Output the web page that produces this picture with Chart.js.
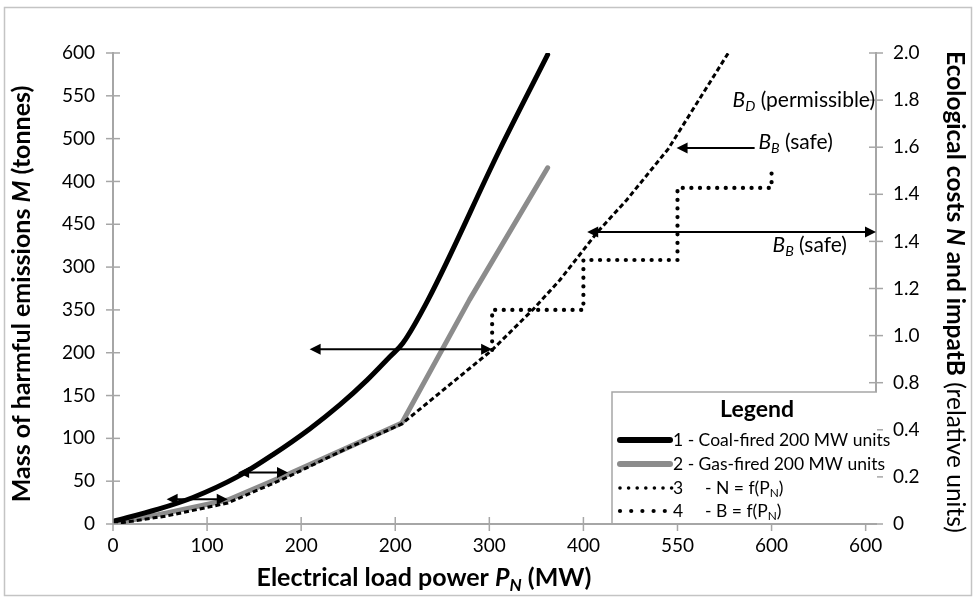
<!DOCTYPE html>
<html><head><meta charset="utf-8">
<script src="https://cdn.jsdelivr.net/npm/chart.js@4.4.0/dist/chart.umd.min.js"></script>
<style>html,body{margin:0;padding:0;background:#fff}#wrap{width:976px;height:600px;position:relative}</style>
</head><body><div id="wrap"><canvas id="c" width="976" height="600"></canvas></div>
<script>
// ---- tick labels (as printed in the original figure) ----
const xTickValues = [0,100,200,300,400,500,600,700,800];
const xTickLabels = ['0','100','200','200','300','400','550','600','600'];
const yTickValues = [0,50,100,150,200,250,300,350,400,450,500,550];
const yTickLabels = ['0','50','100','150','200','350','300','450','400','500','550','600'];
const y2TickValues = [0,0.2,0.4,0.6,0.8,1.0,1.2,1.4,1.6,1.8,2.0];
const y2TickLabels = ['0','0.2','0.4','0.8','1.0','1.2','1.4','1.4','1.6','1.8','2.0'];
const xMax = 811;

// ---- series ----
const coalX = [0,47,85,132,170,209,241,270,294,308,335,411,462];
const coalY = [3,17,31,55,81,111,139,168,195,211,262,437,548];
const gasX  = [0,57,122,186,247,307,379,462];
const gasY  = [0,13,28,58,88,118,262,416];
const nX = [0,57,122,186,247,307,403,446,475,515,546,590,654];
const nY = [0,0.034,0.089,0.200,0.318,0.425,0.739,0.909,1.036,1.240,1.376,1.592,2.0];
const bX = [403,403,500,500,600,600,700,700];
const bY = [0.739,0.909,0.909,1.121,1.121,1.427,1.427,1.516];

// ---- arrows (data units) ----
const arrowX1 = [57,133,209,504,682];
const arrowX2 = [122,186,403,811,599];
const arrowY  = [29,60,204,1.24,1.597];
const arrowAxis = ['y','y','y','y2','y2'];
const arrowStartHead = [true,true,true,true,false];

// ---- notes ----
const noteMain = ['B','B','B'];
const noteSub = ['D','B','B'];
const noteRest = [' (permissible)',' (safe)',' (safe)'];
const noteX = [810,686,701];
const noteY = [1.8,1.62,1.185];
const noteAlign = ['right','left','left'];

// ---- legend ----
const legendNum = ['1 - Coal-fired 200 MW units','2 - Gas-fired 200 MW units','3','4'];
const legendRest = ['','','- N = f(P','- B = f(P'];
const legendSub = ['','','N','N'];

const FONT = 'Lato, "Open Sans", sans-serif';
const pts = (xs, ys) => xs.map((x,i)=>({x:x, y:ys[i]}));

function drawRich(ctx, segs, x, y, align){
  const fontOf = s => (s.italic?'italic ':'') + (s.bold?'bold ':'') + (s.sub? s.size*0.68 : s.size) + 'px ' + FONT;
  let w = 0;
  segs.forEach(s=>{ ctx.font = fontOf(s); s.w = ctx.measureText(s.t).width; w += s.w; });
  let cx = align==='center' ? x - w/2 : (align==='right' ? x - w : x);
  ctx.textAlign = 'left'; ctx.textBaseline = 'middle';
  segs.forEach(s=>{ ctx.font = fontOf(s); ctx.fillText(s.t, cx, y + (s.sub ? s.size*0.3 : 0)); cx += s.w; });
  return w;
}

function arrowHead(ctx, x, y, dir){
  ctx.beginPath();
  ctx.moveTo(x, y);
  ctx.lineTo(x - dir*11, y - 5.5);
  ctx.lineTo(x - dir*11, y + 5.5);
  ctx.closePath();
  ctx.fill();
}

const overlay = {
  id:'overlay',
  afterDraw(chart){
    const {ctx, chartArea:ca, scales} = chart;
    const sx = scales.x, sy = scales.y, sy2 = scales.y2;
    ctx.save();
    ctx.strokeStyle = '#a6a6a6'; ctx.lineWidth = 1.5;
    const ln = (a,b,c,d)=>{ctx.beginPath();ctx.moveTo(a,b);ctx.lineTo(c,d);ctx.stroke();};
    xTickValues.forEach(v=>{ const p = sx.getPixelForValue(v); ln(p, ca.bottom-7, p, ca.bottom+7); });
    yTickValues.forEach(v=>{ const p = sy.getPixelForValue(v); ln(ca.left-7, p, ca.left+7, p); });
    y2TickValues.forEach(v=>{ const p = sy2.getPixelForValue(v); ln(ca.right-7, p, ca.right+7, p); });

    ctx.strokeStyle = '#000'; ctx.fillStyle = '#000'; ctx.lineWidth = 2;
    arrowX1.forEach((x1,i)=>{
      const ys = scales[arrowAxis[i]];
      const p1 = sx.getPixelForValue(x1), p2 = sx.getPixelForValue(arrowX2[i]);
      const py = ys.getPixelForValue(arrowY[i]);
      const dir = p2 > p1 ? 1 : -1;
      ln(p1 + (arrowStartHead[i] ? dir*6 : 0), py, p2 - dir*6, py);
      arrowHead(ctx, p2, py, dir);
      if (arrowStartHead[i]) arrowHead(ctx, p1, py, -dir);
    });

    ctx.fillStyle = '#000';
    noteMain.forEach((m,i)=>{
      const px = sx.getPixelForValue(noteX[i]), py = sy2.getPixelForValue(noteY[i]);
      drawRich(ctx, [{t:m,italic:true,size:21},{t:noteSub[i],italic:true,sub:true,size:21},{t:noteRest[i],size:21}], px, py, noteAlign[i]);
    });

    const lx = 612, ly = 392, lr = 877, lb = ca.bottom - 1;
    ctx.fillStyle = '#fff'; ctx.fillRect(lx, ly, lr-lx, lb-ly);
    ctx.strokeStyle = '#a6a6a6'; ctx.lineWidth = 1.5;
    ctx.beginPath(); ctx.moveTo(lx, lb); ctx.lineTo(lx, ly); ctx.lineTo(lr, ly); ctx.stroke();
    ctx.fillStyle = '#000';
    drawRich(ctx, [{t:'Legend', bold:true, size:23}], 757, 410, 'center');
    const rows = [440, 464, 488, 511];
    const ds = chart.data.datasets;
    rows.forEach((ry,i)=>{
      const d = ds[i];
      ctx.save();
      ctx.strokeStyle = d.borderColor;
      if (i < 2) { ctx.lineWidth = 6; ctx.lineCap = 'round'; ln(620, ry, 670, ry); }
      else {
        ctx.fillStyle = '#000';
        const step = i===2 ? 8.6 : 11.2, r = i===2 ? 1.8 : 2.1;
        for (let k=0; k<(i===2?7:5); k++){ ctx.beginPath(); ctx.arc(620 + k*step, ry, r, 0, Math.PI*2); ctx.fill(); }
      }
      ctx.restore();
      ctx.fillStyle = '#000';
      if (i < 2) drawRich(ctx, [{t:legendNum[i], size:17.5}], 673, ry, 'left');
      else {
        drawRich(ctx, [{t:legendNum[i], size:17.5}], 673, ry, 'left');
        drawRich(ctx, [{t:legendRest[i], size:17.5},{t:legendSub[i], size:17.5, sub:true},{t:')', size:17.5}], 705, ry, 'left');
      }
    });

    ctx.fillStyle = '#000';
    ctx.save(); ctx.translate(22, 294); ctx.rotate(-Math.PI/2);
    drawRich(ctx, [{t:'Mass of harmful emissions ',bold:true,size:25},{t:'M',bold:true,italic:true,size:25},{t:' (tonnes)',bold:true,size:25}], 0, 0, 'center');
    ctx.restore();
    ctx.save(); ctx.translate(955, 292); ctx.rotate(Math.PI/2);
    drawRich(ctx, [{t:'Ecological costs ',bold:true,size:24.5},{t:'N',bold:true,italic:true,size:24.5},{t:' and impatB',bold:true,size:24.5},{t:' (relative units)',size:24.5}], 0, 0, 'center');
    ctx.restore();
    drawRich(ctx, [{t:'Electrical load power ',bold:true,size:25},{t:'P',bold:true,italic:true,size:25},{t:'N',bold:true,italic:true,sub:true,size:25},{t:' (MW)',bold:true,size:25}], 424, 578, 'center');

    ctx.strokeStyle = '#c4c4c4'; ctx.lineWidth = 1.5;
    ctx.strokeRect(4.5, 7.5, 967, 588);
    ctx.restore();
  }
};

const axisFont = {family: FONT, size: 19};
new Chart(document.getElementById('c'), {
  type: 'line',
  data: {
    datasets: [
      {label: legendNum[0], data: pts(coalX, coalY), yAxisID:'y', borderColor:'#000', borderWidth:5, pointRadius:0, cubicInterpolationMode:'monotone', borderJoinStyle:'round', borderCapStyle:'round', order:2},
      {label: legendNum[1], data: pts(gasX, gasY), yAxisID:'y', borderColor:'#8c8c8c', borderWidth:5, pointRadius:0, tension:0, borderJoinStyle:'round', borderCapStyle:'round', order:3},
      {label: 'N', data: pts(nX, nY), yAxisID:'y2', borderColor:'#000', borderWidth:3, borderDash:[5,3], pointRadius:0, tension:0, order:1},
      {label: 'B', data: pts(bX, bY), yAxisID:'y2', borderColor:'#000', borderWidth:4.2, borderDash:[0.1,8.5], borderCapStyle:'round', pointRadius:0, tension:0, order:0}
    ]
  },
  options: {
    responsive:false, animation:false,
    layout:{padding:{top:53,left:0,right:0,bottom:0}},
    plugins:{legend:{display:false}, tooltip:{enabled:false}},
    scales:{
      x:{type:'linear', position:'bottom', min:0, max:xMax,
         afterBuildTicks:s=>{s.ticks = xTickValues.map(v=>({value:v}));},
         ticks:{callback:v=>xTickLabels[xTickValues.indexOf(v)], font:axisFont, color:'#000', padding:10, maxRotation:0, autoSkip:false},
         grid:{display:false, drawTicks:false}, border:{display:true, color:'#a6a6a6', width:2},
         afterFit:s=>{s.height = 76;}},
      y:{type:'linear', position:'left', min:0, max:550,
         afterBuildTicks:s=>{s.ticks = yTickValues.map(v=>({value:v}));},
         ticks:{callback:v=>yTickLabels[yTickValues.indexOf(v)], font:axisFont, color:'#000', padding:18, autoSkip:false},
         grid:{display:false, drawTicks:false}, border:{display:true, color:'#a6a6a6', width:2},
         afterFit:s=>{s.width = 113;}},
      y2:{type:'linear', position:'right', min:0, max:2.0,
         afterBuildTicks:s=>{s.ticks = y2TickValues.map(v=>({value:v}));},
         ticks:{callback:v=>{const i = y2TickValues.findIndex(t=>Math.abs(t-v)<1e-6); return y2TickLabels[i];}, font:axisFont, color:'#000', padding:17, autoSkip:false},
         grid:{display:false, drawTicks:false}, border:{display:true, color:'#a6a6a6', width:2},
         afterFit:s=>{s.width = 100;}}
    }
  },
  plugins:[overlay]
});
</script>
</body></html>
